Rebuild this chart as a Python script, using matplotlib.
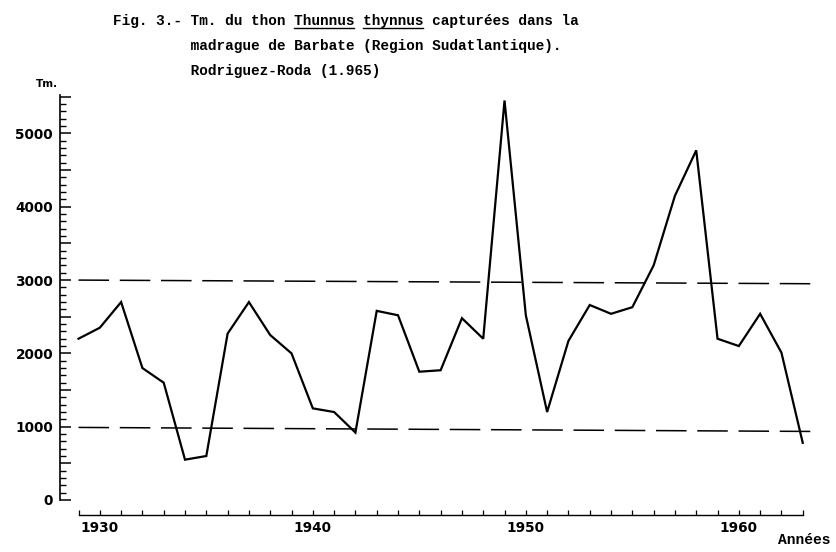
import matplotlib
matplotlib.use("Agg")
import matplotlib.pyplot as plt
from matplotlib.lines import Line2D
from matplotlib.ticker import MultipleLocator, FixedLocator, FuncFormatter

# captures (Tm.), 1929-1963
years = list(range(1929, 1964))
catch = [2200, 2350, 2700, 1800, 1600, 550, 600, 2270, 2700, 2250,
         2000, 1250, 1200, 920, 2580, 2520, 1750, 1770, 2480, 2200,
         5450, 2520, 1200, 2170, 2660, 2540, 2630, 3200, 4150, 4770,
         2200, 2100, 2540, 2010, 780]

# the two dashed reference levels (slightly tilted in the scan)
ref_years = [1929, 1963.5]
ref_upper = [3000, 2950]
ref_lower = [990, 935]

W, H = 837, 552
fig = plt.figure(figsize=(W / 100, H / 100), dpi=100)
ax = fig.add_axes([60 / W, 1 - 520 / H, (830 - 60) / W, (520 - 95) / H])

ax.plot(years, catch, color='black', lw=1.6, solid_joinstyle='miter')
ax.plot(ref_years, ref_upper, color='black', lw=1.1, dashes=(20, 7))
ax.plot(ref_years, ref_lower, color='black', lw=1.1, dashes=(20, 7))

ax.set_xlim(1928.131, 1964.28)
ax.set_ylim(-273, 5525)

for s in ['top', 'right']:
    ax.spines[s].set_visible(False)
ax.spines['left'].set_bounds(0, 5525)
ax.spines['left'].set_linewidth(1.2)
ax.spines['bottom'].set_position(('data', -205))
ax.spines['bottom'].set_bounds(1929, 1963)
ax.spines['bottom'].set_linewidth(1.0)

ax.yaxis.set_major_locator(FixedLocator(range(0, 5501, 500)))
ax.yaxis.set_minor_locator(FixedLocator(range(0, 5501, 100)))
ax.yaxis.set_major_formatter(FuncFormatter(lambda v, p: '%d' % v if v % 1000 == 0 else ''))
ax.tick_params(axis='y', which='major', direction='in', length=8, width=1.1, pad=5)
ax.tick_params(axis='y', which='minor', direction='in', length=4.5, width=1.0)

ax.xaxis.set_major_locator(FixedLocator([1930, 1940, 1950, 1960]))
ax.xaxis.set_minor_locator(FixedLocator(years))
ax.tick_params(axis='x', which='both', direction='in', length=3.5, width=0.9, pad=4)

for lab in ax.get_xticklabels() + ax.get_yticklabels():
    lab.set_fontweight('bold')
    lab.set_fontsize(9.8)

fig.text(47 / W, 1 - 84 / H, 'Tm.', fontsize=7.5, fontweight='bold',
         ha='center', va='center')
fig.text(778 / W, 1 - 540 / H, 'Années', family='Liberation Mono',
         fontsize=10.5, fontweight='bold', va='center')

title_lines = ['Fig. 3.- Tm. du thon Thunnus thynnus capturées dans la',
               '         madrague de Barbate (Region Sudatlantique).',
               '         Rodriguez-Roda (1.965)']
baselines = [25, 50, 75]
texts = []
for line, b in zip(title_lines, baselines):
    texts.append(fig.text(113 / W, 1 - b / H, line, family='Liberation Mono',
                          fontsize=10.4, fontweight='bold', va='baseline'))

# underline the species name (monospace: measure one character width)
renderer = fig.canvas.get_renderer()
bb = texts[0].get_window_extent(renderer)
cw = bb.width / len(title_lines[0])
uy = 1 - 27.5 / H
for start in (21, 29):
    x0 = bb.x0 + start * cw
    x1 = x0 + 7 * cw
    fig.add_artist(Line2D([x0 / W, x1 / W], [uy, uy], transform=fig.transFigure,
                          color='black', lw=1.0))

fig.savefig('out.png', dpi=100)
